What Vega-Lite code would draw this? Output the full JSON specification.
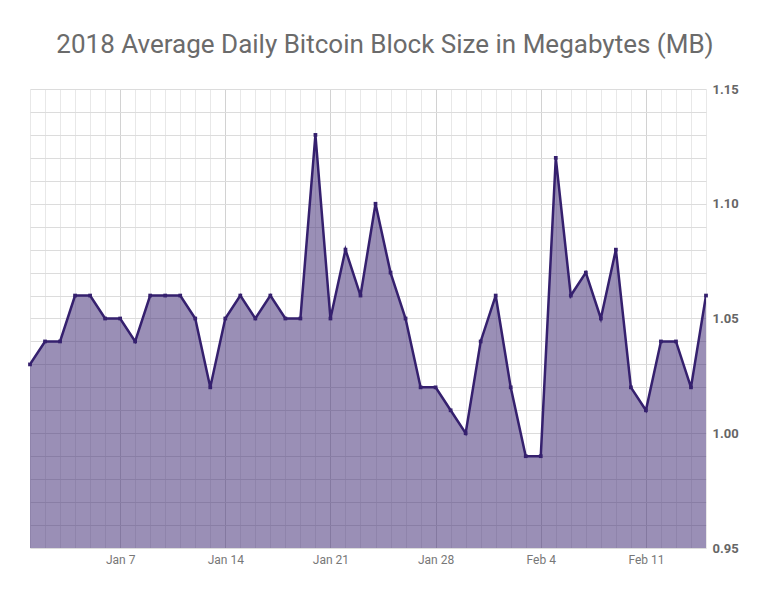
{
  "$schema": "https://vega.github.io/schema/vega-lite/v6.json",
  "width": 676,
  "height": 459,
  "padding": {"left": 28, "top": 32, "right": 10, "bottom": 10},
  "title": {"text": "2018 Average Daily Bitcoin Block Size in Megabytes (MB)", "font": "Roboto", "fontSize": 26, "fontWeight": "normal", "color": "#6b6b6b", "offset": 25, "anchor": "middle", "frame": "group", "dx": 17},
  "config": {"view": {"stroke": null}, "font": "Roboto"},
  "data": {"values": [
    {"date": "2018-01-01T00:00", "size": 1.03},
    {"date": "2018-01-02T00:00", "size": 1.04},
    {"date": "2018-01-03T00:00", "size": 1.04},
    {"date": "2018-01-04T00:00", "size": 1.06},
    {"date": "2018-01-05T00:00", "size": 1.06},
    {"date": "2018-01-06T00:00", "size": 1.05},
    {"date": "2018-01-07T00:00", "size": 1.05},
    {"date": "2018-01-08T00:00", "size": 1.04},
    {"date": "2018-01-09T00:00", "size": 1.06},
    {"date": "2018-01-10T00:00", "size": 1.06},
    {"date": "2018-01-11T00:00", "size": 1.06},
    {"date": "2018-01-12T00:00", "size": 1.05},
    {"date": "2018-01-13T00:00", "size": 1.02},
    {"date": "2018-01-14T00:00", "size": 1.05},
    {"date": "2018-01-15T00:00", "size": 1.06},
    {"date": "2018-01-16T00:00", "size": 1.05},
    {"date": "2018-01-17T00:00", "size": 1.06},
    {"date": "2018-01-18T00:00", "size": 1.05},
    {"date": "2018-01-19T00:00", "size": 1.05},
    {"date": "2018-01-20T00:00", "size": 1.13},
    {"date": "2018-01-21T00:00", "size": 1.05},
    {"date": "2018-01-22T00:00", "size": 1.08},
    {"date": "2018-01-23T00:00", "size": 1.06},
    {"date": "2018-01-24T00:00", "size": 1.10},
    {"date": "2018-01-25T00:00", "size": 1.07},
    {"date": "2018-01-26T00:00", "size": 1.05},
    {"date": "2018-01-27T00:00", "size": 1.02},
    {"date": "2018-01-28T00:00", "size": 1.02},
    {"date": "2018-01-29T00:00", "size": 1.01},
    {"date": "2018-01-30T00:00", "size": 1.00},
    {"date": "2018-01-31T00:00", "size": 1.04},
    {"date": "2018-02-01T00:00", "size": 1.06},
    {"date": "2018-02-02T00:00", "size": 1.02},
    {"date": "2018-02-03T00:00", "size": 0.99},
    {"date": "2018-02-04T00:00", "size": 0.99},
    {"date": "2018-02-05T00:00", "size": 1.12},
    {"date": "2018-02-06T00:00", "size": 1.06},
    {"date": "2018-02-07T00:00", "size": 1.07},
    {"date": "2018-02-08T00:00", "size": 1.05},
    {"date": "2018-02-09T00:00", "size": 1.08},
    {"date": "2018-02-10T00:00", "size": 1.02},
    {"date": "2018-02-11T00:00", "size": 1.01},
    {"date": "2018-02-12T00:00", "size": 1.04},
    {"date": "2018-02-13T00:00", "size": 1.04},
    {"date": "2018-02-14T00:00", "size": 1.02},
    {"date": "2018-02-15T00:00", "size": 1.06}
  ]},
  "resolve": {"axis": {"x": "independent", "y": "independent"}},
  "layer": [
    {
      "mark": {"type": "area", "color": "#35206e", "opacity": 0.5, "clip": true},
      "encoding": {
        "x": {"field": "date", "type": "temporal", "title": null,
              "scale": {"domain": [{"year": 2018, "month": 1, "date": 1}, {"year": 2018, "month": 2, "date": 15}]},
              "axis": {"orient": "top", "tickCount": {"interval": "day", "step": 1}, "labels": false, "ticks": false, "domain": false, "grid": true, "gridColor": "#e8e8e8", "gridWidth": 1}},
        "y": {"field": "size", "type": "quantitative", "title": null,
              "scale": {"domain": [0.95, 1.15], "zero": false, "nice": false},
              "axis": {"orient": "left", "values": [0.95,0.96,0.97,0.98,0.99,1.0,1.01,1.02,1.03,1.04,1.05,1.06,1.07,1.08,1.09,1.1,1.11,1.12,1.13,1.14,1.15], "labels": false, "ticks": false, "domain": false, "grid": true, "gridColor": "#dcdcdc", "gridWidth": 1}}
      }
    },
    {
      "mark": {"type": "line", "color": "#35206e", "strokeWidth": 2.5, "clip": true},
      "encoding": {
        "x": {"field": "date", "type": "temporal", "title": null,
              "axis": {"orient": "bottom", "tickCount": {"interval": "week", "step": 1}, "format": "%b %-d", "labelFont": "Roboto", "labelFontSize": 12, "labelColor": "#777777", "labelPadding": 6, "ticks": false, "domain": false, "grid": true, "gridColor": "#d2d2d2", "gridWidth": 1}},
        "y": {"field": "size", "type": "quantitative", "title": null,
              "axis": {"orient": "right", "values": [0.95, 1.0, 1.05, 1.1, 1.15], "format": ".2f", "labelFont": "Roboto", "labelFontSize": 13, "labelFontWeight": "bold", "labelColor": "#666666", "labelPadding": 6, "ticks": false, "domain": false, "grid": false}}
      }
    },
    {
      "mark": {"type": "point", "filled": true, "color": "#35206e", "size": 14, "opacity": 1, "shape": "square"},
      "encoding": {
        "x": {"field": "date", "type": "temporal", "axis": null},
        "y": {"field": "size", "type": "quantitative", "axis": null}
      }
    }
  ]
}
